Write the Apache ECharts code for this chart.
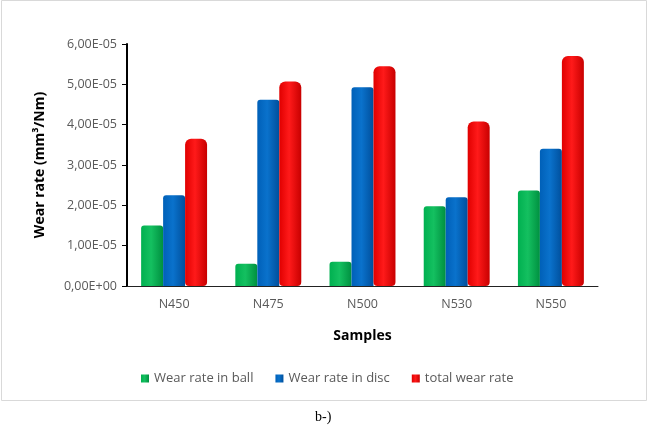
<!DOCTYPE html>
<html><head><meta charset="utf-8">
<script src="https://cdn.jsdelivr.net/npm/echarts@6/dist/echarts.min.js"></script>
<style>html,body{margin:0;padding:0;background:#fff}#c{width:650px;height:427px}</style>
</head><body><div id="c"></div>
<script>
const categories = ['N450','N475','N500','N530','N550'];
const wearBall  = [1.50e-5, 0.55e-5, 0.60e-5, 1.98e-5, 2.37e-5];
const wearDisc  = [2.25e-5, 4.62e-5, 4.93e-5, 2.20e-5, 3.40e-5];
const wearTotal = [3.65e-5, 5.07e-5, 5.45e-5, 4.08e-5, 5.70e-5];
const seriesNames = ['Wear rate in ball','Wear rate in disc','total wear rate'];

function grad(c1,c2,c3){
  return new echarts.graphic.LinearGradient(0,0,1,0,[{offset:0,color:c1},{offset:0.45,color:c2},{offset:1,color:c3}]);
}
const chart = echarts.init(document.getElementById('c'));
const fmt = v => { if (Math.abs(v) < 1e-12) return '0,00E+00';
  let s = v.toExponential(2); let [m,e] = s.split('e'); let sign = e[0]==='-'?'-':'+'; let d = e.replace(/[+-]/,''); if(d.length<2) d='0'+d;
  return m.replace('.',',')+'E'+sign+d; };
const font = '"Open Sans", sans-serif';
chart.setOption({
  animation:false,
  textStyle:{fontFamily:font},
  grid:{left:127,right:52,top:44,bottom:141},
  legend:{data:seriesNames, bottom:37, left:136, itemWidth:8, itemHeight:8, itemGap:22, icon:'rect',
    textStyle:{color:'#595959', fontSize:13, fontFamily:font}},
  xAxis:{type:'category', data:categories, name:'Samples', nameLocation:'middle', nameGap:43,
    nameTextStyle:{fontWeight:'bold', fontSize:14, color:'#000', fontFamily:font},
    axisLine:{lineStyle:{color:'#222', width:1}}, axisTick:{show:false},
    axisLabel:{color:'#595959', fontSize:12.5, margin:12}},
  yAxis:{type:'value', min:0, max:6e-5, interval:1e-5, name:'Wear rate (mm³/Nm)', nameLocation:'middle', nameGap:80,
    nameTextStyle:{fontWeight:'bold', fontSize:14, color:'#000', fontFamily:font},
    axisLine:{show:true, lineStyle:{color:'#000', width:2}}, axisTick:{show:true, inside:false, length:5, lineStyle:{color:'#000'}},
    splitLine:{show:false}, axisLabel:{color:'#595959', fontSize:12.5, formatter:fmt, margin:10}},
  series:[
    {name:seriesNames[0], type:'bar', data:wearBall, barGap:'0%', barCategoryGap:'30%',
      itemStyle:{color:grad('#00b050','#14c060','#009040'), borderRadius:[3,3,0,0]}},
    {name:seriesNames[1], type:'bar', data:wearDisc, barGap:'0%', barCategoryGap:'30%',
      itemStyle:{color:grad('#0060b8','#0a72cc','#004f9c'), borderRadius:[3,3,0,0]}},
    {name:seriesNames[2], type:'bar', data:wearTotal, barGap:'0%', barCategoryGap:'30%',
      itemStyle:{color:grad('#e00000','#ff1a1a','#c80000'), borderRadius:[6,6,4,4]}}
  ],
  graphic:[
    {type:'rect', shape:{x:1.5,y:0.5,width:645,height:400}, style:{fill:'none', stroke:'#d9d9d9', lineWidth:1}, silent:true},
    {type:'text', left:315, top:410, style:{text:'b-)', font:'14px "Liberation Serif", serif', fill:'#000'}}
  ]
});
</script></body></html>
